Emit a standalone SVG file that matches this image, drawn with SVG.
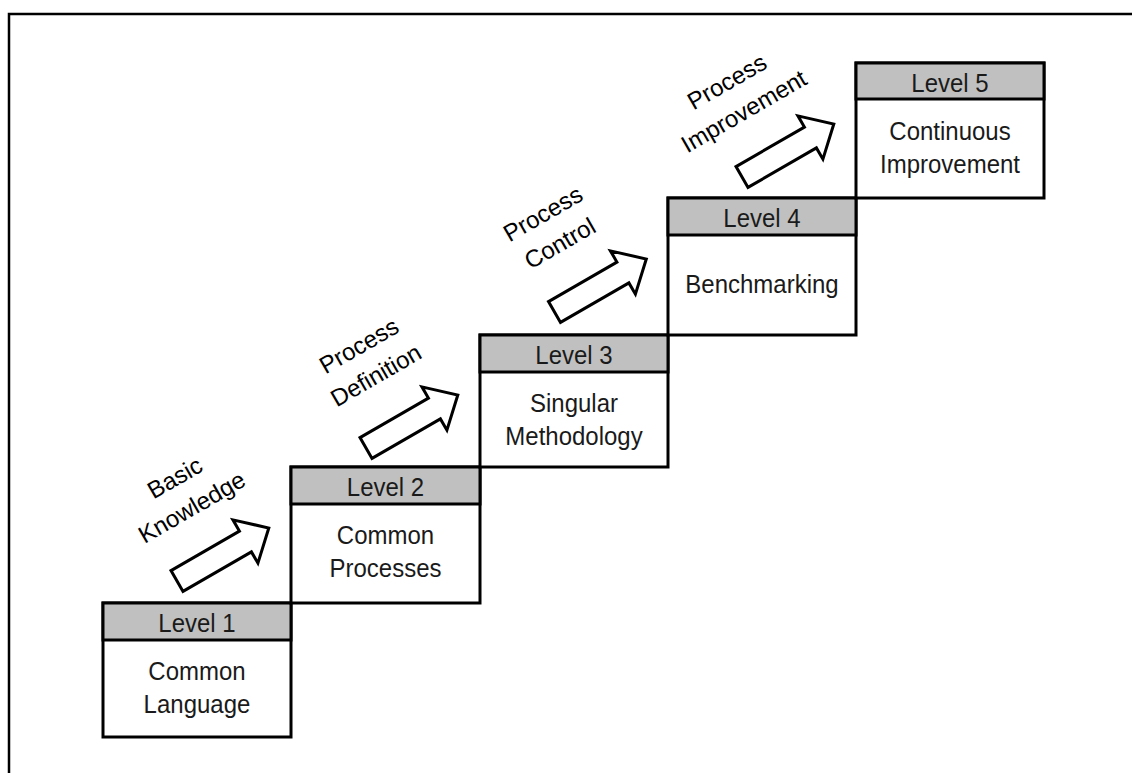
<svg xmlns="http://www.w3.org/2000/svg" width="1132" height="773" viewBox="0 0 1132 773">
<defs>
<style>
.box{fill:#ffffff;stroke:#000000;stroke-width:3}
.hdr{fill:#c0c0c0;stroke:#000000;stroke-width:3}
.t{font-family:"Liberation Sans",Arial,sans-serif;font-size:24px;fill:#1a1a1a;text-anchor:middle}
.lbl{font-family:"Liberation Sans",Arial,sans-serif;font-size:24px;fill:#000000;text-anchor:middle}
.arr{fill:#ffffff;stroke:#000000;stroke-width:3;stroke-linejoin:miter}
</style>
<polygon id="blockArrow" points="0,-12 79,-12 79,-25 106,0 79,25 79,12 0,12"/>
</defs>
<rect x="0" y="0" width="1132" height="773" fill="#ffffff"/>
<path d="M9,773 V14 H1132" fill="none" stroke="#000000" stroke-width="2.5"/>

<g id="level1">
<rect class="box" x="103" y="603" width="188" height="134"/>
<rect class="hdr" x="103" y="603" width="188" height="37"/>
<text class="t" transform="translate(197,632) scale(1,1.1)">Level 1</text>
<text class="t" transform="translate(197,680) scale(1,1.1)">Common</text>
<text class="t" transform="translate(197,713) scale(1,1.1)">Language</text>
</g>

<g id="level2">
<rect class="box" x="291" y="467" width="189" height="136"/>
<rect class="hdr" x="291" y="467" width="189" height="37"/>
<text class="t" transform="translate(385.5,496) scale(1,1.1)">Level 2</text>
<text class="t" transform="translate(385.5,544) scale(1,1.1)">Common</text>
<text class="t" transform="translate(385.5,577) scale(1,1.1)">Processes</text>
</g>

<g id="level3">
<rect class="box" x="480" y="335" width="188" height="132"/>
<rect class="hdr" x="480" y="335" width="188" height="37"/>
<text class="t" transform="translate(574,364) scale(1,1.1)">Level 3</text>
<text class="t" transform="translate(574,412) scale(1,1.1)">Singular</text>
<text class="t" transform="translate(574,445) scale(1,1.1)">Methodology</text>
</g>

<g id="level4">
<rect class="box" x="668" y="198" width="188" height="137"/>
<rect class="hdr" x="668" y="198" width="188" height="37"/>
<text class="t" transform="translate(762,227) scale(1,1.1)">Level 4</text>
<text class="t" transform="translate(762,293) scale(1,1.1)">Benchmarking</text>
</g>

<g id="level5">
<rect class="box" x="856" y="63" width="188" height="135"/>
<rect class="hdr" x="856" y="63" width="188" height="36"/>
<text class="t" transform="translate(950,92) scale(1,1.1)">Level 5</text>
<text class="t" transform="translate(950,140) scale(1,1.1)">Continuous</text>
<text class="t" transform="translate(950,173) scale(1,1.1)">Improvement</text>
</g>

<g id="connectors">
<use href="#blockArrow" class="arr" transform="translate(177,581) rotate(-30)"/>
<use href="#blockArrow" class="arr" transform="translate(366,448) rotate(-30)"/>
<use href="#blockArrow" class="arr" transform="translate(554.5,312) rotate(-30)"/>
<use href="#blockArrow" class="arr" transform="translate(742,177) rotate(-30)"/>
</g>

<g id="labels">
<g transform="translate(175,478) rotate(-30)">
<text class="lbl" x="0" y="8">Basic</text>
<text class="lbl" x="0" y="42">Knowledge</text>
</g>
<g transform="translate(359,346) rotate(-30)">
<text class="lbl" x="0" y="8">Process</text>
<text class="lbl" x="0" y="42">Definition</text>
</g>
<g transform="translate(543,214) rotate(-30)">
<text class="lbl" x="0" y="8">Process</text>
<text class="lbl" x="0" y="42">Control</text>
</g>
<g transform="translate(727,82) rotate(-30)">
<text class="lbl" x="0" y="8">Process</text>
<text class="lbl" x="0" y="42">Improvement</text>
</g>
</g>
</svg>
